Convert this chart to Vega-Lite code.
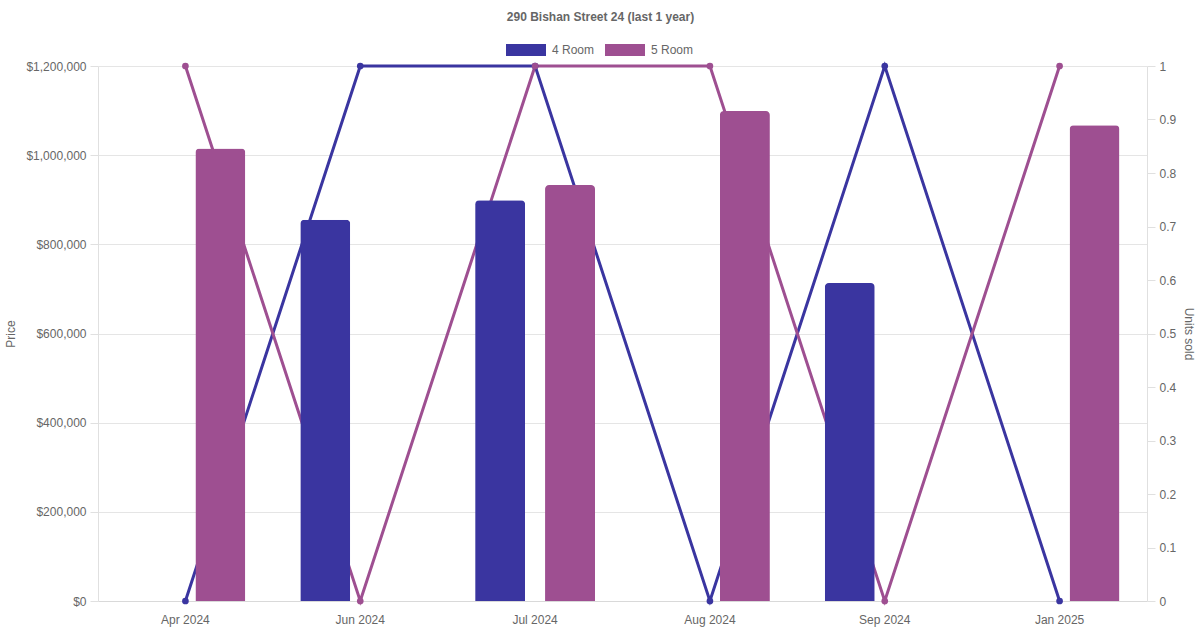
{
  "$schema": "https://vega.github.io/schema/vega-lite/v6.json",
  "autosize": {"type": "none"},
  "width": 1049,
  "height": 535,
  "padding": {"left": 98, "top": 66, "right": 53, "bottom": 29},
  "background": "white",
  "title": {
    "text": "290 Bishan Street 24 (last 1 year)",
    "anchor": "middle",
    "dx": -22,
    "fontSize": 12,
    "fontWeight": "bold",
    "color": "#666666",
    "font": "Liberation Sans",
    "offset": 6
  },
  "data": {
    "values": [
      {"month": "Apr 2024", "room": "4 Room", "price": null, "units": 0},
      {"month": "Apr 2024", "room": "5 Room", "price": 1015000, "units": 1},
      {"month": "Jun 2024", "room": "4 Room", "price": 855000, "units": 1},
      {"month": "Jun 2024", "room": "5 Room", "price": null, "units": 0},
      {"month": "Jul 2024", "room": "4 Room", "price": 899000, "units": 1},
      {"month": "Jul 2024", "room": "5 Room", "price": 933000, "units": 1},
      {"month": "Aug 2024", "room": "4 Room", "price": null, "units": 0},
      {"month": "Aug 2024", "room": "5 Room", "price": 1099000, "units": 1},
      {"month": "Sep 2024", "room": "4 Room", "price": 713000, "units": 1},
      {"month": "Sep 2024", "room": "5 Room", "price": null, "units": 0},
      {"month": "Jan 2025", "room": "4 Room", "price": null, "units": 0},
      {"month": "Jan 2025", "room": "5 Room", "price": 1067000, "units": 1}
    ]
  },
  "encoding": {
    "x": {
      "field": "month",
      "type": "ordinal",
      "sort": ["Apr 2024", "Jun 2024", "Jul 2024", "Aug 2024", "Sep 2024", "Jan 2025"],
      "scale": {"paddingInner": 0, "paddingOuter": 0},
      "axis": {
        "title": null,
        "labelAngle": 0,
        "ticks": false,
        "labelPadding": 13,
        "domainColor": "#d9d9d9",
        "grid": false
      }
    },
    "color": {
      "field": "room",
      "type": "nominal",
      "scale": {"domain": ["4 Room", "5 Room"], "range": ["#3a35a0", "#9e4f91"]},
      "legend": {
        "orient": "none",
        "legendX": 408,
        "legendY": -36,
        "direction": "horizontal",
        "title": null,
        "symbolType": "M-1,-0.3H1V0.3H-1Z",
        "symbolSize": 1600,
        "symbolStrokeWidth": 0,
        "symbolOpacity": 1,
        "labelOffset": 6,
        "columnPadding": 10,
        "labelFontSize": 12,
        "labelColor": "#666666",
        "labelFont": "Liberation Sans"
      }
    }
  },
  "layer": [
    {
      "mark": {"type": "line", "strokeWidth": 3},
      "encoding": {
        "y": {
          "field": "units",
          "type": "quantitative",
          "scale": {"domain": [0, 1]},
          "axis": {
            "orient": "right",
            "title": "Units sold",
            "values": [0, 0.1, 0.2, 0.3, 0.4, 0.5, 0.6, 0.7, 0.8, 0.9, 1],
            "format": ".1~f",
            "grid": false,
            "tickSize": 8,
            "labelPadding": 4,
            "titlePadding": 6
          }
        }
      }
    },
    {
      "mark": {"type": "point", "filled": true, "opacity": 1, "size": 45},
      "encoding": {
        "y": {"field": "units", "type": "quantitative", "scale": {"domain": [0, 1]}, "axis": null}
      }
    },
    {
      "transform": [{"filter": "isValid(datum.price)"}],
      "mark": {"type": "bar", "width": 50, "cornerRadiusTopLeft": 4, "cornerRadiusTopRight": 4},
      "encoding": {
        "xOffset": {
          "field": "room",
          "type": "nominal",
          "scale": {"domain": ["4 Room", "5 Room"], "paddingInner": 0.2857, "paddingOuter": 0.393}
        },
        "y": {
          "field": "price",
          "type": "quantitative",
          "scale": {"domain": [0, 1200000]},
          "axis": {
            "orient": "left",
            "title": "Price",
            "values": [0, 200000, 400000, 600000, 800000, 1000000, 1200000],
            "format": "$,.0f",
            "grid": true,
            "tickSize": 8,
            "labelPadding": 4,
            "titlePadding": 8
          }
        }
      }
    }
  ],
  "resolve": {"scale": {"y": "independent"}},
  "config": {
    "font": "Liberation Sans",
    "view": {"stroke": null},
    "axis": {
      "labelFont": "Liberation Sans",
      "labelFontSize": 12,
      "labelColor": "#666666",
      "titleFont": "Liberation Sans",
      "titleFontSize": 12,
      "titleFontWeight": "normal",
      "titleColor": "#666666",
      "domainColor": "#e0e0e0",
      "tickColor": "#e0e0e0",
      "gridColor": "#e5e5e5"
    }
  }
}
